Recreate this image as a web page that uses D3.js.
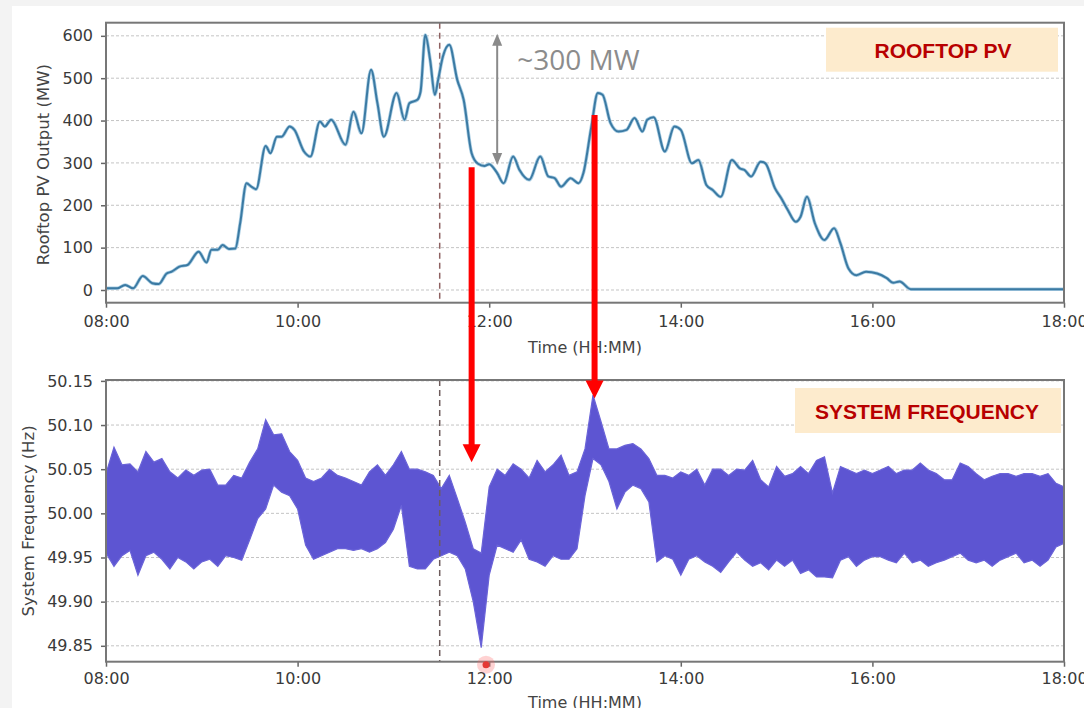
<!DOCTYPE html>
<html>
<head>
<meta charset="utf-8">
<script src="https://cdn.jsdelivr.net/npm/d3@7/dist/d3.min.js"></script>
<style>
  body { margin: 0; background: #fff; }
  svg { display: block; }
</style>
</head>
<body>
<div id="chart"></div>
<script>
// rooftop PV output, minutes after 08:00 and MW
var pvMinutes = [0, 7, 12, 17, 23, 29, 33, 38, 41, 46, 51, 58, 63, 66, 70, 73, 77, 81, 84, 88,
  91, 94, 100, 103, 107, 110, 115, 118, 124, 128, 134, 137, 141, 150, 155, 160, 166, 170, 174, 182,
  187, 190, 195, 197, 200, 203, 206, 208, 211, 215, 220, 224, 229, 233, 237, 240, 245, 249, 255, 259,
  265, 272, 277, 281, 285, 291, 296, 299, 304, 308, 311, 316, 321, 326, 331, 336, 339, 343, 350, 356,
  360, 367, 371, 376, 380, 385, 392, 397, 400, 404, 410, 413, 419, 423, 427, 432, 435, 439, 444, 450,
  456, 460, 465, 470, 476, 483, 489, 493, 497, 504, 600];
var pvMW = [4, 4, 12, 4, 33, 16, 14, 39, 43, 55, 59, 90, 65, 95, 95, 106, 97, 98, 157, 252,
  244, 238, 340, 323, 362, 362, 386, 378, 327, 315, 398, 386, 402, 343, 421, 370, 520, 441, 362, 465,
  402, 441, 449, 468, 602, 543, 461, 496, 551, 579, 496, 449, 323, 298, 293, 297, 276, 252, 315, 283,
  260, 315, 268, 264, 244, 264, 252, 276, 386, 465, 461, 394, 374, 378, 406, 374, 402, 408, 327, 386,
  378, 299, 307, 248, 236, 220, 307, 287, 283, 268, 303, 299, 240, 216, 189, 161, 173, 220, 157, 118,
  146, 110, 51, 35, 43, 39, 28, 17, 20, 2, 2];

// system frequency envelope, one value every 5 minutes from 08:00 (one row per hour)
var freqStep = 5;
var freqHigh = [
  50.045, 50.075, 50.055, 50.056, 50.047, 50.070, 50.058, 50.062, 50.047, 50.040, 50.049, 50.043,
  50.049, 50.050, 50.032, 50.032, 50.043, 50.040, 50.058, 50.073, 50.106, 50.089, 50.090, 50.070,
  50.060, 50.040, 50.036, 50.040, 50.050, 50.043, 50.040, 50.036, 50.032, 50.047, 50.055, 50.043,
  50.055, 50.070, 50.050, 50.050, 50.047, 50.043, 50.028, 50.043, 50.017, 49.990, 49.960, 49.955,
  50.030, 50.050, 50.043, 50.056, 50.050, 50.040, 50.060, 50.047, 50.055, 50.066, 50.043, 50.047,
  50.073, 50.134, 50.104, 50.073, 50.073, 50.077, 50.079, 50.073, 50.062, 50.043, 50.043, 50.040,
  50.047, 50.043, 50.050, 50.032, 50.050, 50.050, 50.043, 50.050, 50.049, 50.060, 50.038, 50.030,
  50.053, 50.042, 50.045, 50.053, 50.045, 50.060, 50.064, 50.023, 50.053, 50.049, 50.045, 50.049,
  50.045, 50.049, 50.053, 50.045, 50.049, 50.049, 50.057, 50.049, 50.045, 50.038, 50.038, 50.057,
  50.053, 50.045, 50.038, 50.042, 50.045, 50.045, 50.042, 50.045, 50.045, 50.042, 50.045, 50.034,
  50.030];
var freqLow = [
  49.955, 49.940, 49.952, 49.958, 49.930, 49.952, 49.956, 49.948, 49.937, 49.950, 49.945, 49.937,
  49.945, 49.948, 49.940, 49.952, 49.950, 49.947, 49.970, 49.994, 50.005, 50.032, 50.024, 50.020,
  50.005, 49.964, 49.948, 49.952, 49.956, 49.960, 49.960, 49.958, 49.960, 49.956, 49.960, 49.967,
  49.982, 50.009, 49.940, 49.937, 49.937, 49.948, 49.952, 49.956, 49.952, 49.937, 49.900, 49.848,
  49.930, 49.964, 49.960, 49.956, 49.970, 49.948, 49.945, 49.940, 49.952, 49.948, 49.948, 49.960,
  50.020, 50.062, 50.055, 50.036, 50.005, 50.024, 50.032, 50.028, 50.013, 49.945, 49.952, 49.948,
  49.930, 49.948, 49.952, 49.945, 49.940, 49.933, 49.945, 49.956, 49.947, 49.940, 49.944, 49.936,
  49.947, 49.940, 49.947, 49.932, 49.936, 49.928, 49.928, 49.927, 49.947, 49.951, 49.940, 49.947,
  49.951, 49.951, 49.947, 49.944, 49.955, 49.944, 49.947, 49.940, 49.944, 49.947, 49.951, 49.955,
  49.947, 49.944, 49.947, 49.940, 49.947, 49.951, 49.955, 49.944, 49.947, 49.940, 49.947, 49.962,
  49.966];

var hourTicks = [8, 10, 12, 14, 16, 18];
var pvTicks = [0, 100, 200, 300, 400, 500, 600];
var hzTicks = [49.85, 49.90, 49.95, 50.00, 50.05, 50.10, 50.15];

var eventMinute = 209;       // dashed marker, about 11:29
var dropMinute = 245;        // ~300 MW annotation
var redArrows = [
  {minute: 229, fromMW: 290, toHz: 50.058},
  {minute: 306, fromMW: 413, toHz: 50.130}
];

var totalW = 1084, totalH = 708;
var left = 106, width = 958;
var top1 = 22.7, h1 = 280;
var top2 = 380, h2 = 281.7;

var svg = d3.select("#chart").append("svg")
  .attr("width", totalW)
  .attr("height", totalH);

// page background
svg.append("rect").attr("width", totalW).attr("height", totalH).attr("fill", "#f3f3f3");
svg.append("rect").attr("x", 12).attr("y", 6).attr("width", totalW - 12).attr("height", totalH - 6).attr("fill", "#fff");

var x = d3.scaleLinear().domain([8, 18]).range([0, width]);
var yPV = d3.scaleLinear().domain([-30, 631]).range([h1, 0]);
var yHz = d3.scaleLinear().domain([49.832, 50.151]).range([h2, 0]);

function hm(d) { return (d < 10 ? "0" : "") + d + ":00"; }
function toHour(m) { return 8 + m / 60; }

function drawPanel(g, y, ticks, h, fmt, padX) {
  // gridlines
  g.append("g")
    .selectAll("line")
    .data(ticks)
    .enter().append("line")
      .attr("x1", 0).attr("x2", width)
      .attr("y1", function(d) { return y(d); })
      .attr("y2", function(d) { return y(d); })
      .attr("stroke", "#c4c4c4")
      .attr("stroke-width", 1)
      .attr("stroke-dasharray", "3,2");

  var ya = g.append("g")
    .call(d3.axisLeft(y).tickValues(ticks).tickSize(5).tickPadding(8).tickFormat(fmt));
  var xa = g.append("g")
    .attr("transform", "translate(0," + h + ")")
    .call(d3.axisBottom(x).tickValues(hourTicks).tickSize(5).tickPadding(padX).tickFormat(hm));
  [ya, xa].forEach(function(a) {
    a.select(".domain").remove();
    a.selectAll(".tick line").attr("stroke", "#666").attr("stroke-width", 1.5);
    a.selectAll(".tick text")
      .attr("fill", "#3a3a3a")
      .style("font-family", "DejaVu Sans")
      .style("font-size", "16px");
  });
}

// ---- top panel: rooftop PV
var p1 = svg.append("g").attr("transform", "translate(" + left + "," + top1 + ")");
drawPanel(p1, yPV, pvTicks, h1, d3.format("d"), 8);

p1.append("rect")
  .attr("x", 720).attr("y", 5).attr("width", 232).attr("height", 44)
  .attr("fill", "#fdebcd");
p1.append("text")
  .attr("x", 837).attr("y", 27.5)
  .attr("text-anchor", "middle").attr("dominant-baseline", "central")
  .style("font-family", "Liberation Sans").style("font-weight", "bold").style("font-size", "21px")
  .attr("fill", "#b80000")
  .text("ROOFTOP PV");

p1.append("line")
  .attr("x1", x(toHour(eventMinute))).attr("x2", x(toHour(eventMinute)))
  .attr("y1", 0).attr("y2", h1)
  .attr("stroke", "#8e6262").attr("stroke-width", 1.5).attr("stroke-dasharray", "6,4");

var pvLine = d3.line()
  .x(function(d, i) { return x(toHour(pvMinutes[i])); })
  .y(function(d) { return yPV(d); })
  .curve(d3.curveMonotoneX);
p1.append("path")
  .datum(pvMW)
  .attr("d", pvLine)
  .attr("fill", "none")
  .attr("stroke", "#a9cde3")
  .attr("stroke-width", 3.5);
p1.append("path")
  .datum(pvMW)
  .attr("d", pvLine)
  .attr("fill", "none")
  .attr("stroke", "#3b7aa3")
  .attr("stroke-width", 2);

// ~300 MW double arrow
var ax = x(toHour(dropMinute));
p1.append("line")
  .attr("x1", ax).attr("x2", ax)
  .attr("y1", yPV(600) + 8).attr("y2", yPV(300) - 8)
  .attr("stroke", "#8a8a8a").attr("stroke-width", 2);
p1.append("path")
  .attr("d", "M" + ax + "," + (yPV(600) - 2) + "l-5,12h10z")
  .attr("fill", "#8a8a8a");
p1.append("path")
  .attr("d", "M" + ax + "," + (yPV(300) + 2) + "l-5,-12h10z")
  .attr("fill", "#8a8a8a");
p1.append("text")
  .attr("x", ax + 20).attr("y", 47)
  .style("font-family", "Open Sans").style("font-size", "28px")
  .attr("fill", "#8c8c8c")
  .text("~300 MW");

p1.append("rect")
  .attr("width", width).attr("height", h1)
  .attr("fill", "none").attr("stroke", "#777").attr("stroke-width", 2);

svg.append("text")
  .attr("transform", "translate(43," + (top1 + 142) + ") rotate(-90)")
  .attr("text-anchor", "middle").attr("dominant-baseline", "central")
  .style("font-family", "DejaVu Sans").style("font-size", "16.5px")
  .attr("fill", "#444")
  .text("Rooftop PV Output (MW)");
svg.append("text")
  .attr("x", left + width / 2).attr("y", 347)
  .attr("text-anchor", "middle").attr("dominant-baseline", "central")
  .style("font-family", "DejaVu Sans").style("font-size", "16px")
  .attr("fill", "#444")
  .text("Time (HH:MM)");

// ---- bottom panel: system frequency
var p2 = svg.append("g").attr("transform", "translate(" + left + "," + top2 + ")");
drawPanel(p2, yHz, hzTicks, h2, d3.format(".2f"), 6);

p2.append("rect")
  .attr("x", 689).attr("y", 8).attr("width", 266).attr("height", 45)
  .attr("fill", "#fdebcd");
p2.append("text")
  .attr("x", 821).attr("y", 31)
  .attr("text-anchor", "middle").attr("dominant-baseline", "central")
  .style("font-family", "Liberation Sans").style("font-weight", "bold").style("font-size", "21px")
  .attr("fill", "#b80000")
  .text("SYSTEM FREQUENCY");

var hzArea = d3.area()
  .x(function(d, i) { return x(toHour(i * freqStep)); })
  .y0(function(d, i) { return yHz(freqLow[i]); })
  .y1(function(d) { return yHz(d); });
p2.append("path")
  .datum(freqHigh)
  .attr("d", hzArea)
  .attr("fill", "#5d55d2")
  .attr("stroke", "#6a63d8")
  .attr("stroke-width", 1.2);

p2.append("line")
  .attr("x1", x(toHour(eventMinute))).attr("x2", x(toHour(eventMinute)))
  .attr("y1", 0).attr("y2", h2)
  .attr("stroke", "#6e5c5c").attr("stroke-width", 1.5).attr("stroke-dasharray", "6,4");

p2.append("rect")
  .attr("width", width).attr("height", h2)
  .attr("fill", "none").attr("stroke", "#777").attr("stroke-width", 2);

svg.append("text")
  .attr("transform", "translate(28," + (top2 + 141) + ") rotate(-90)")
  .attr("text-anchor", "middle").attr("dominant-baseline", "central")
  .style("font-family", "DejaVu Sans").style("font-size", "16.5px")
  .attr("fill", "#444")
  .text("System Frequency (Hz)");
svg.append("text")
  .attr("x", left + width / 2).attr("y", 702)
  .attr("text-anchor", "middle").attr("dominant-baseline", "central")
  .style("font-family", "DejaVu Sans").style("font-size", "16px")
  .attr("fill", "#444")
  .text("Time (HH:MM)");

// cursor mark under 12:00
var cx = left + x(toHour(238)), cy = top2 + h2 + 3;
svg.append("circle").attr("cx", cx).attr("cy", cy).attr("r", 9).attr("fill", "#ff6b6b").attr("opacity", 0.3);
svg.append("circle").attr("cx", cx).attr("cy", cy).attr("r", 3.5).attr("fill", "#e53935");

// red arrows linking the two panels
redArrows.forEach(function(a) {
  var rx = left + x(toHour(a.minute));
  var y0 = top1 + yPV(a.fromMW);
  var y1 = top2 + yHz(a.toHz);
  svg.append("line")
    .attr("x1", rx).attr("x2", rx)
    .attr("y1", y0).attr("y2", y1 - 14)
    .attr("stroke", "#ff0000").attr("stroke-width", 6);
  svg.append("path")
    .attr("d", "M" + rx + "," + y1 + "l-9,-18h18z")
    .attr("fill", "#ff0000");
});
</script>
</body>
</html>
